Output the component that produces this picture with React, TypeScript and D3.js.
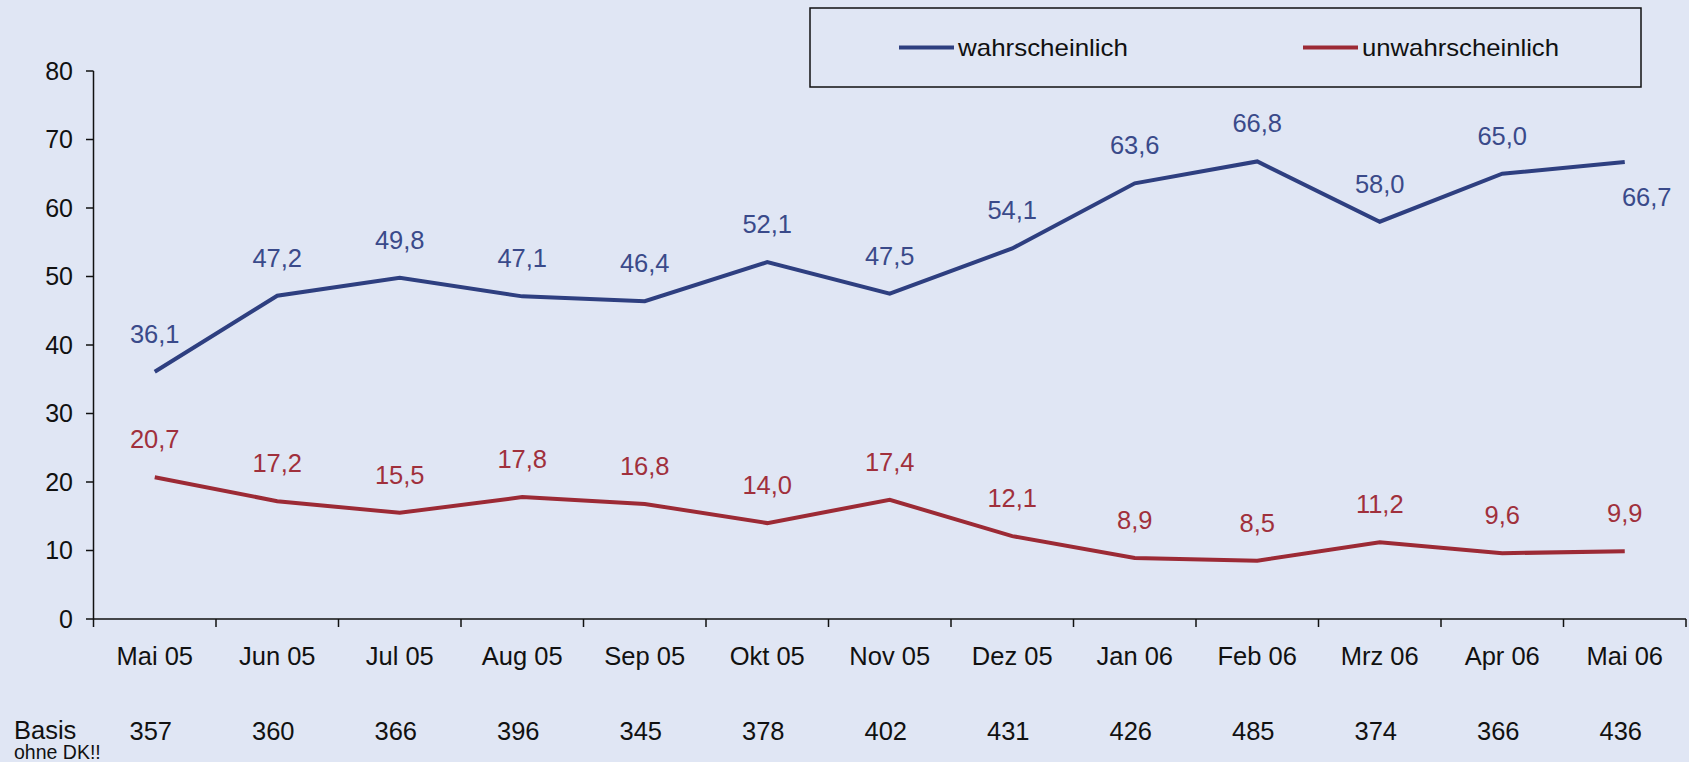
import React from "react";
import * as d3 from "d3";

const categories = ["Mai 05", "Jun 05", "Jul 05", "Aug 05", "Sep 05", "Okt 05", "Nov 05", "Dez 05", "Jan 06", "Feb 06", "Mrz 06", "Apr 06", "Mai 06"];
const wahrscheinlich = [36.1, 47.2, 49.8, 47.1, 46.4, 52.1, 47.5, 54.1, 63.6, 66.8, 58.0, 65.0, 66.7];
const unwahrscheinlich = [20.7, 17.2, 15.5, 17.8, 16.8, 14.0, 17.4, 12.1, 8.9, 8.5, 11.2, 9.6, 9.9];
const basis = [357, 360, 366, 396, 345, 378, 402, 431, 426, 485, 374, 366, 436];
const yTicks = [0, 10, 20, 30, 40, 50, 60, 70, 80];
const seriesNames = ["wahrscheinlich", "unwahrscheinlich"];

const W = 1689;
const H = 762;
const BG = "#E0E6F4";
const BLUE = "#2E3F80";
const RED = "#9C2A35";
const BLUE_T = "#3A4A8A";
const RED_T = "#A0303C";
const FONT = "Arial, 'Liberation Sans', sans-serif";

export default function App() {
  const x = d3.scaleBand<string>().domain(categories).range([93.5, 1686]).padding(0);
  const y = d3.scaleLinear().domain([0, 80]).range([619, 71]);
  const cx = (c: string) => (x(c) as number) + x.bandwidth() / 2;

  const line = d3
    .line<number>()
    .x((_, i) => cx(categories[i]))
    .y((d) => y(d));

  const fmt = (v: number) => v.toFixed(1).replace(".", ",");

  const series = [
    { name: seriesNames[0], data: wahrscheinlich, color: BLUE, text: BLUE_T },
    { name: seriesNames[1], data: unwahrscheinlich, color: RED, text: RED_T },
  ];

  const boundaries = categories.map((c) => x(c) as number).concat([x.range()[1]]);

  return (
    <svg width={W} height={H} style={{ position: "absolute", left: 0, top: 0, display: "block" }} fontFamily={FONT}>
      <rect x={0} y={0} width={W} height={H} fill={BG} />

      {/* legend */}
      <rect x={810} y={8} width={831} height={79} fill="none" stroke="#111" strokeWidth={1.5} />
      <line x1={899} x2={954} y1={47.5} y2={47.5} stroke={BLUE} strokeWidth={4} />
      <text x={958} y={47.5} dy="0.35em" fontSize={24} textLength={170} lengthAdjust="spacingAndGlyphs" fill="#111">{seriesNames[0]}</text>
      <line x1={1303} x2={1358} y1={47.5} y2={47.5} stroke={RED} strokeWidth={4} />
      <text x={1362} y={47.5} dy="0.35em" fontSize={24} textLength={197} lengthAdjust="spacingAndGlyphs" fill="#111">{seriesNames[1]}</text>

      {/* y axis */}
      <line x1={93.5} x2={93.5} y1={y(80)} y2={y(0)} stroke="#111" strokeWidth={1.5} />
      {yTicks.map((t) => (
        <g key={t}>
          <line x1={86} x2={93.5} y1={y(t)} y2={y(t)} stroke="#111" strokeWidth={1.5} />
          <text x={73} y={y(t)} dy="0.35em" textAnchor="end" fontSize={25} fill="#111">{t}</text>
        </g>
      ))}

      {/* x axis */}
      <line x1={93.5} x2={1686} y1={y(0)} y2={y(0)} stroke="#111" strokeWidth={1.5} />
      {boundaries.map((b, i) => (
        <line key={i} x1={b} x2={b} y1={y(0)} y2={y(0) + 8} stroke="#111" strokeWidth={1.5} />
      ))}
      {categories.map((c) => (
        <text key={c} x={cx(c)} y={656} dy="0.35em" textAnchor="middle" fontSize={25.5} fill="#111">{c}</text>
      ))}

      {/* lines */}
      {series.map((s) => (
        <path key={s.name} d={line(s.data) as string} fill="none" stroke={s.color} strokeWidth={4} strokeLinejoin="miter" />
      ))}

      {/* data labels */}
      {series.map((s, si) =>
        s.data.map((v, i) => {
          const last = si === 0 && i === s.data.length - 1;
          return (
            <text
              key={s.name + i}
              x={cx(categories[i]) + (last ? 22 : 0)}
              y={y(v) + (last ? 35 : -38)}
              dy="0.35em"
              textAnchor="middle"
              fontSize={25.5}
              fill={s.text}
            >
              {fmt(v)}
            </text>
          );
        })
      )}

      {/* basis row */}
      <text x={14} y={730} dy="0.35em" fontSize={25.5} fill="#111">Basis</text>
      <text x={14} y={752.5} dy="0.35em" fontSize={19.5} fill="#111">ohne DK!!</text>
      {basis.map((b, i) => (
        <text key={i} x={cx(categories[i]) - 4} y={731} dy="0.35em" textAnchor="middle" fontSize={25.5} fill="#111">{b}</text>
      ))}
    </svg>
  );
}
